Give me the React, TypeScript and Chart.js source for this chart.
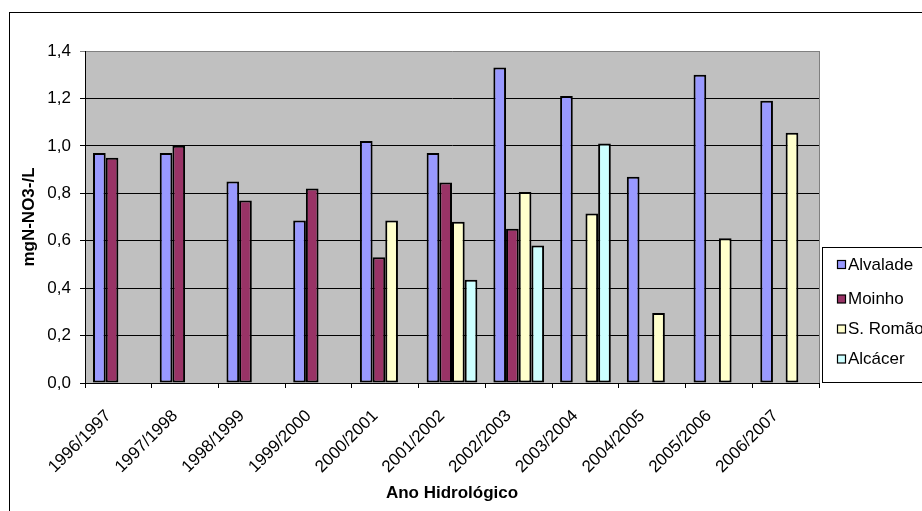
import { useEffect, useRef } from 'react';
import { Chart, registerables } from 'chart.js';

Chart.register(...registerables);

// Hydrological years on the category axis
const years = [
  '1996/1997', '1997/1998', '1998/1999', '1999/2000', '2000/2001', '2001/2002',
  '2002/2003', '2003/2004', '2004/2005', '2005/2006', '2006/2007',
];

// Mean nitrate concentration (mgN-NO3-/L) per station
const alvalade = [0.97, 0.97, 0.85, 0.685, 1.02, 0.97, 1.33, 1.21, 0.87, 1.3, 1.19];
const moinho = [0.95, 1.0, 0.77, 0.82, 0.53, 0.845, 0.65, null, null, null, null];
const saoRomao = [null, null, null, null, 0.685, 0.68, 0.805, 0.715, 0.295, 0.61, 1.055];
const alcacer = [null, null, null, null, null, 0.435, 0.58, 1.01, null, null, null];

const seriesNames = ['Alvalade', 'Moinho', 'S. Romão', 'Alcácer'];
const seriesValues = [alvalade, moinho, saoRomao, alcacer];
const seriesColors = ['#9999FF', '#993366', '#FFFFCC', '#CCFFFF'];

const yTickLabels = ['0,0', '0,2', '0,4', '0,6', '0,8', '1,0', '1,2', '1,4'];

const FONT = '"Liberation Sans", Arial, sans-serif';
const LEGEND_ROWS = [264.5, 299, 329, 359];

// White page, outer frame, grey plot background and the boxed legend
const backgroundPlugin = {
  id: 'backgroundPlugin',
  beforeDraw(chart: any) {
    const { ctx, chartArea } = chart;
    ctx.save();
    ctx.fillStyle = '#FFFFFF';
    ctx.fillRect(0, 0, chart.width, chart.height);
    ctx.strokeStyle = '#000000';
    ctx.lineWidth = 1;
    ctx.strokeRect(9.5, 12.5, 2000, 2000);
    ctx.fillStyle = '#C0C0C0';
    ctx.fillRect(chartArea.left, chartArea.top, chartArea.right - chartArea.left, chartArea.bottom - chartArea.top);
    ctx.restore();
  },
  afterDraw(chart: any) {
    const { ctx, chartArea } = chart;
    ctx.save();
    // plot area right edge
    ctx.strokeStyle = '#808080';
    ctx.lineWidth = 1;
    ctx.beginPath();
    ctx.moveTo(Math.round(chartArea.right) + 0.5, chartArea.top);
    ctx.lineTo(Math.round(chartArea.right) + 0.5, chartArea.bottom);
    ctx.stroke();

    // legend box
    const bx = 822.5;
    const by = 247.5;
    ctx.fillStyle = '#FFFFFF';
    ctx.fillRect(bx, by, 200, 135);
    ctx.strokeStyle = '#000000';
    ctx.strokeRect(bx, by, 200, 135);

    ctx.font = `17px ${FONT}`;
    ctx.textBaseline = 'middle';
    ctx.textAlign = 'left';
    seriesNames.forEach((name, i) => {
      const cy = LEGEND_ROWS[i];
      ctx.fillStyle = seriesColors[i];
      ctx.fillRect(837.5, cy - 4, 8, 8);
      ctx.strokeStyle = '#000000';
      ctx.lineWidth = 1.2;
      ctx.strokeRect(837.5, cy - 4, 8, 8);
      ctx.fillStyle = '#000000';
      ctx.fillText(name, 848, cy + 0.5);
    });
    ctx.restore();
  },
};

export default function App() {
  const canvasRef = useRef<HTMLCanvasElement | null>(null);

  useEffect(() => {
    if (!canvasRef.current) return;
    const chart = new Chart(canvasRef.current, {
      type: 'bar',
      data: {
        labels: years,
        datasets: seriesNames.map((name, i) => ({
          label: name,
          data: seriesValues[i],
          backgroundColor: seriesColors[i],
          borderColor: '#000000',
          borderWidth: 2,
          borderSkipped: false,
          categoryPercentage: 0.76,
          barPercentage: 1,
        })),
      },
      options: {
        responsive: false,
        animation: false,
        events: [],
        layout: { padding: { left: 10, top: 51, right: 103, bottom: 0 } },
        plugins: {
          legend: { display: false },
          tooltip: { enabled: false },
        },
        scales: {
          x: {
            offset: true,
            grid: {
              offset: true,
              drawOnChartArea: false,
              drawTicks: true,
              tickLength: 5,
              color: '#000000',
            },
            border: { color: '#000000', width: 1 },
            ticks: {
              autoSkip: false,
              minRotation: 45,
              maxRotation: 45,
              padding: 18,
              labelOffset: -10,
              color: '#000000',
              font: { family: FONT, size: 17 },
            },
            title: {
              display: true,
              text: 'Ano Hidrológico',
              color: '#000000',
              font: { family: FONT, size: 17, weight: 'bold' },
              padding: { top: 0, bottom: 7 },
            },
            afterFit(scale: any) {
              scale.height = 128;
            },
          },
          y: {
            min: 0,
            max: 1.4,
            grid: {
              color: (ctx: any) => (ctx.index === yTickLabels.length - 1 ? '#808080' : '#000000'),
              tickLength: 5,
            },
            border: { color: '#000000', width: 1 },
            ticks: {
              stepSize: 0.2,
              padding: 9,
              color: '#000000',
              font: { family: FONT, size: 17 },
              callback: (_v: any, i: number) => yTickLabels[i],
            },
            title: {
              display: true,
              text: 'mgN-NO3-/L',
              color: '#000000',
              font: { family: FONT, size: 17, weight: 'bold' },
              padding: { top: 9, bottom: 0 },
            },
            afterFit(scale: any) {
              scale.width = 75;
            },
          },
        },
      },
      plugins: [backgroundPlugin],
    });
    return () => chart.destroy();
  }, []);

  return (
    <div style={{ position: 'fixed', left: 0, top: 0, width: 922, height: 511 }}>
      <canvas ref={canvasRef} width={922} height={511} style={{ display: 'block' }} />
    </div>
  );
}
